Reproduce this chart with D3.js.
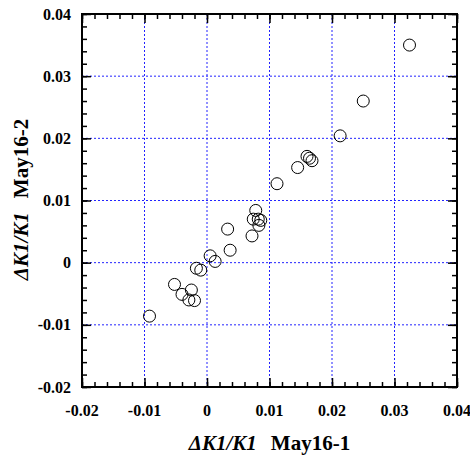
<!DOCTYPE html>
<html><head><meta charset="utf-8">
<script src="https://cdn.jsdelivr.net/npm/d3@7"></script>
<style>body{margin:0;background:#fff}svg{display:block}</style>
</head><body>
<script>
const xValues = [0.0324,0.0250,0.0213,0.0160,0.0164,0.0168,0.0145,0.0112,0.0078,0.0074,0.0082,0.0086,0.0083,0.0072,0.0033,0.0037,0.0005,0.0013,-0.0017,-0.0010,-0.0052,-0.0025,-0.0040,-0.0029,-0.0020,-0.0092];
const yValues = [0.0350,0.0260,0.0204,0.0171,0.0168,0.0164,0.0153,0.0127,0.0084,0.0070,0.0070,0.0068,0.0060,0.0043,0.0054,0.0020,0.0011,0.0002,-0.0009,-0.0012,-0.0035,-0.0044,-0.0051,-0.0060,-0.0061,-0.0086];
const majorTicks = [-0.02,-0.01,0,0.01,0.02,0.03,0.04];
const tickLabels = ["-0.02","-0.01","0","0.01","0.02","0.03","0.04"];
const minorTicks = d3.range(-0.02, 0.0401, 0.002);
const xTitle = ["ΔK1/K1", "May16-1"];
const yTitle = ["ΔK1/K1", "May16-2"];

const W = 470, H = 455;
const L = 82, R = 457, T = 14, B = 387;
const svg = d3.select("body").append("svg").attr("width", W).attr("height", H);
const x = d3.scaleLinear().domain([-0.02, 0.04]).range([L, R]);
const y = d3.scaleLinear().domain([-0.02, 0.04]).range([B, T]);

// grid
const grid = svg.append("g").attr("stroke", "#2222ff").attr("stroke-width", 1).attr("stroke-dasharray", "2,2");
majorTicks.slice(1, -1).forEach(v => {
  grid.append("line").attr("x1", x(v)).attr("x2", x(v)).attr("y1", T).attr("y2", B);
  grid.append("line").attr("y1", y(v)).attr("y2", y(v)).attr("x1", L).attr("x2", R);
});

// axes with inward ticks
function addAxis(axisGen, transform) {
  const g = svg.append("g").attr("transform", transform)
    .call(axisGen.tickValues(minorTicks).tickSize(5).tickFormat(""));
  g.select(".domain").remove();
  g.selectAll("line").attr("stroke", "#000").attr("stroke-width", 1.5);
  const g2 = svg.append("g").attr("transform", transform)
    .call(axisGen.tickValues(majorTicks).tickSize(9).tickFormat(""));
  g2.select(".domain").remove();
  g2.selectAll("line").attr("stroke", "#000").attr("stroke-width", 1.5);
}
addAxis(d3.axisTop(x), `translate(0,${B})`);
addAxis(d3.axisBottom(x), `translate(0,${T})`);
addAxis(d3.axisRight(y), `translate(${L},0)`);
addAxis(d3.axisLeft(y), `translate(${R},0)`);

svg.append("rect").attr("x", L).attr("y", T).attr("width", R - L).attr("height", B - T)
  .attr("fill", "none").attr("stroke", "#000").attr("stroke-width", 2);

// tick labels
const font = "'Liberation Serif','Times New Roman',serif";
svg.append("g").selectAll("text").data(majorTicks).join("text")
  .attr("x", d => x(d)).attr("y", 416).attr("text-anchor", "middle")
  .attr("font-family", font).attr("font-weight", "bold").attr("font-size", 16)
  .text((d, i) => tickLabels[i]);
svg.append("g").selectAll("text").data(majorTicks).join("text")
  .attr("x", 71).attr("y", d => y(d) + 5.5).attr("text-anchor", "end")
  .attr("font-family", font).attr("font-weight", "bold").attr("font-size", 16)
  .text((d, i) => tickLabels[i]);

// titles
const xt = svg.append("text").attr("x", (L + R) / 2).attr("y", 450).attr("text-anchor", "middle")
  .attr("font-family", font).attr("font-weight", "bold").attr("font-size", 21);
xt.append("tspan").attr("font-style", "italic").text(xTitle[0]);
xt.append("tspan").attr("dx", 14).text(xTitle[1]);

const yt = svg.append("text").attr("transform", `translate(27.5,${(T + B) / 2 - 1}) rotate(-90)`).attr("text-anchor", "middle")
  .attr("font-family", font).attr("font-weight", "bold").attr("font-size", 21);
yt.append("tspan").attr("font-style", "italic").text(yTitle[0]);
yt.append("tspan").attr("dx", 14).text(yTitle[1]);

// points
svg.append("g").selectAll("circle").data(xValues).join("circle")
  .attr("cx", d => x(d)).attr("cy", (d, i) => y(yValues[i])).attr("r", 6)
  .attr("fill", "none").attr("stroke", "#000").attr("stroke-width", 1);
</script>
</body></html>
